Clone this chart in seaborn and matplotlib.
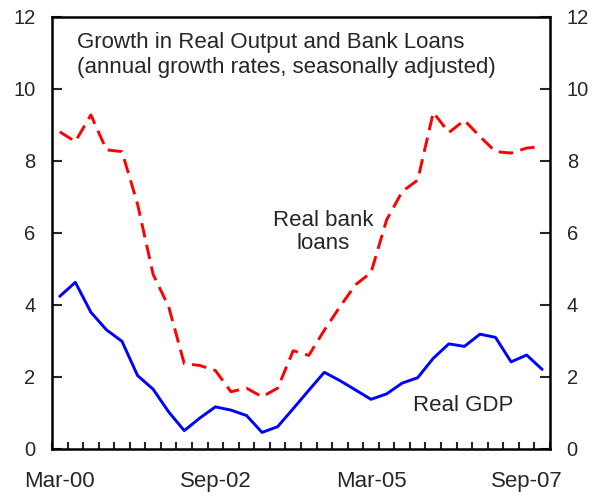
import matplotlib
matplotlib.use("Agg")
import matplotlib.pyplot as plt
import numpy as np
import pandas as pd
import seaborn as sns
from matplotlib.ticker import FixedLocator, MultipleLocator

# quarterly, Mar-00 .. Dec-07
trimestres = pd.period_range("2000Q1", "2007Q4", freq="Q")
rotulos_x = ["Mar-00", "Sep-02", "Mar-05", "Sep-07"]
posicoes_rotulos = [0, 10, 20, 30]

pib_real = [4.24, 4.63, 3.80, 3.31, 2.99, 2.04, 1.66, 1.03, 0.51, 0.86,
            1.17, 1.08, 0.93, 0.46, 0.62, 1.12, 1.63, 2.13, 1.90, 1.64,
            1.38, 1.53, 1.83, 1.98, 2.52, 2.92, 2.85, 3.19, 3.10, 2.42,
            2.61, 2.21]
emprestimos_reais = [8.81, 8.54, 9.28, 8.31, 8.26, 6.80, 4.85, 3.95, 2.37, 2.32,
                     2.18, 1.59, 1.69, 1.45, 1.69, 2.73, 2.60, 3.30, 3.95, 4.56,
                     4.90, 6.36, 7.15, 7.47, 9.35, 8.79, 9.13, 8.68, 8.26, 8.22,
                     8.36, 8.40]

df = pd.DataFrame({
    "idx": np.arange(len(trimestres)),
    "pib": pib_real,
    "emprestimos": emprestimos_reais,
})

sns.set_style("white")
plt.rcParams["font.family"] = ["Liberation Sans", "DejaVu Sans"]

fig = plt.figure(figsize=(5.96, 4.97), dpi=100)
ax = fig.add_axes([0.0872, 0.0966, 0.8356, 0.8692])

sns.lineplot(data=df, x="idx", y="emprestimos", ax=ax, color="#ff0000",
             linewidth=2.1)
ax.lines[-1].set_dashes((5, 2.6))
sns.lineplot(data=df, x="idx", y="pib", ax=ax, color="#0000ff", linewidth=2.1)

ax.set_xlim(-0.5, len(trimestres) - 0.5)
ax.set_ylim(0, 12)
ax.set_xlabel("")
ax.set_ylabel("")

ax.xaxis.set_major_locator(FixedLocator(posicoes_rotulos))
ax.set_xticklabels(rotulos_x)
ax.xaxis.set_minor_locator(FixedLocator(np.arange(len(trimestres) + 1) - 0.5))
ax.yaxis.set_major_locator(MultipleLocator(2))

ax.tick_params(axis="x", which="major", length=0, pad=16, labelsize=16)
ax.tick_params(axis="x", which="minor", direction="in", length=5, width=1.5,
               bottom=True)
ax.tick_params(axis="y", direction="in", length=7, width=1.5, labelsize=14.5,
               left=True, right=True, labelleft=True, labelright=True, pad=12)

for lado in ax.spines.values():
    lado.set_visible(True)
    lado.set_linewidth(1.8)
    lado.set_color("black")

ax.text(0.05, 0.942, "Growth in Real Output and Bank Loans",
        transform=ax.transAxes, fontsize=16, va="center", ha="left")
ax.text(0.05, 0.882, "(annual growth rates, seasonally adjusted)",
        transform=ax.transAxes, fontsize=16, va="center", ha="left")

ax.text(16.95, 6.03, "Real bank\nloans", fontsize=16, ha="center", va="center",
        linespacing=1.15)
ax.text(25.9, 1.2, "Real GDP", fontsize=16, ha="center", va="center")

fig.savefig("out.png", dpi=100)
